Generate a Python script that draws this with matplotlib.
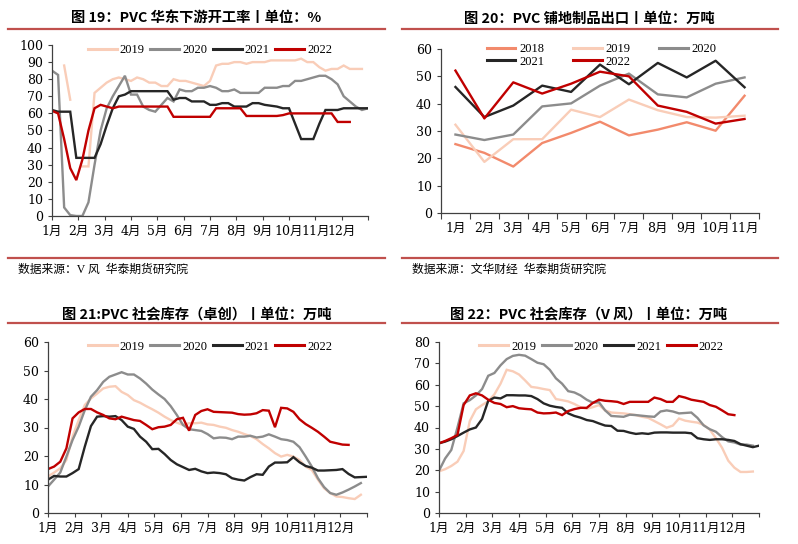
import numpy as np
import matplotlib
matplotlib.use('Agg')
import matplotlib.pyplot as plt
from matplotlib.lines import Line2D

nan = np.nan

# ---------------- data ----------------
months12 = ['1月', '2月', '3月', '4月', '5月', '6月', '7月', '8月', '9月', '10月', '11月', '12月']
months11 = months12[:11]

# Fig 19: weekly operating rate (%)
p1_2019 = [nan, nan, 88, 68, nan, 29, 29, 72, 75, 78, 80, 81, 80, 79, 81, 80, 78, 78, 76, 76,
           80, 79, 79, 78, 77, 76, 79, 88, 89, 89, 90, 90, 89, 90, 90, 90, 91, 91, 91, 91,
           91, 92, 90, 90, 87, 85, 86, 86, 88, 86, 86, 86]
p1_2020 = [85, 82.5, 5, 0.5, 0, 0, 8, 30, 50, 63, 70, 76, 82, 71, 71, 64, 62, 61, 65, 69,
           67, 74, 73, 73, 75, 75, 76, 75, 73, 73, 74, 72, 72, 72, 72, 75, 75, 75, 76, 76,
           79, 79, 80, 81, 82, 82, 80, 77, 70, 67, 64, 62, 63]
p1_2021 = [62, 61, 61, 61, 34, 34, 34, 34, 42, 53, 63, 70, 71, 73, 73, 73, 73, 73, 73, 73,
           68, 69, 69, 67, 67, 67, 65, 65, 66, 66, 64, 64, 64, 66, 66, 65, 64.5, 64, 63, 63,
           54, 45, 45, 45, 54, 62, 62, 62, 63, 63, 63, 63, 63]
p1_2022 = [61.5, 60, 45, 28, 21, 33, 50, 63, 65, 64, 63, 64, 64, 64, 64, 64, 64, 64, 64, 64,
           58, 58, 58, 58, 58, 58, 58, 63, 63, 63, 63, 63, 58.5, 58.5, 58.5, 58.5, 58.5, 58.5, 59, 60,
           60, 60, 60, 60, 60, 60, 60, 55, 55, 55]

# Fig 20: monthly flooring exports (10k t)
p2_2018 = [25.2, 22, 17, 25.6, 29.3, 33.4, 28.4, 30.5, 33.2, 30.1, 42.9]
p2_2019 = [32.3, 18.7, 27, 27, 37.8, 35.1, 41.5, 37.6, 35.1, 34.9, 35.6]
p2_2020 = [28.7, 26.7, 28.7, 39, 40.1, 46.6, 51, 43.4, 42.3, 47.3, 49.6]
p2_2021 = [46.1, 35.1, 39.3, 46.6, 44.3, 54.3, 47.1, 54.9, 49.6, 55.7, 46]
p2_2022 = [52.1, 34.6, 47.8, 43.7, 47.3, 51.7, 50, 39.3, 37, 32.7, 34.4]

# Fig 21: social inventory (Zhuochuang), weekly
p3_2019 = [12.8, 14.2, 15.7, 18.6, 26.8, 32.6, 37.9, 40.2, 41.9, 43.7, 44.3, 44.5, 42.5, 41.4, 39.6,
           38.7, 37.5, 36.4, 35.2, 33.8, 32.6, 31.7, 30.9, 31.5, 31.5, 31.7, 31.1, 30.9, 30.3, 29.9,
           29.1, 28.5, 27.7, 27, 25.9, 24.2, 22.7, 21, 19.8, 20.4, 19.8, 18.6, 16.3, 15.1, 11.7,
           8.7, 7, 5.8, 5.6, 5.2, 4.9, 6.4]
p3_2020 = [9.3, 11.7, 14.2, 19.8, 25.6, 30.3, 36.1, 40.8, 43.1, 46, 47.8, 48.6, 49.4, 48.6, 48.6,
           47.2, 45.4, 43.3, 41.6, 40, 37.5, 34.4, 30.9, 29.4, 29.1, 28.8, 27.7, 26.2, 26.5, 26.4,
           25.9, 26.8, 26.8, 27.1, 26.5, 26.8, 27.6, 26.8, 25.9, 25.6, 25, 23.1, 19.8, 16.3, 12.2,
           9.1, 7, 6.4, 7.2, 8.2, 9.3, 10.5]
p3_2021 = [11.7, 13, 12.8, 12.8, 14, 15.4, 23.3, 30.5, 33.8, 34, 33.8, 34, 32.6, 30.3, 29.5,
           26.8, 25, 22.4, 22.5, 20.7, 18.6, 17.1, 16.1, 15.1, 15.5, 14.6, 14, 14.2, 14, 13.6,
           12.2, 11.7, 11.4, 12.6, 13.6, 13.4, 16.3, 17.7, 17.7, 17.8, 19.6, 17.8, 16.5, 15.9, 14.9,
           14.9, 15, 15.1, 15.4, 13.7, 12.5, 12.6, 12.7]
p3_2022 = [15.4, 16.3, 18, 22.7, 33.2, 35.3, 36.5, 36.5, 35.3, 34.4, 33.2, 32.9, 33.8, 33.2, 32.6,
           32.3, 30.9, 29.4, 30.1, 30.3, 30.9, 32.9, 33.4, 28.9, 34.4, 35.8, 36.4, 35.5, 35.4, 35.3,
           35.2, 34.7, 34.5, 34.6, 35, 36.1, 35.9, 30.1, 36.9, 36.7, 35.5, 32.9, 31.2, 29.9, 28.5,
           26.8, 25, 24.5, 24, 23.9]

# Fig 22: social inventory (Wind), weekly
p4_2019 = [19.5, 20.5, 22, 24, 29, 43, 48.5, 50.5, 52.3, 55.5, 60.5, 67, 66.3, 64.8, 62, 59, 58.6,
           58, 57.5, 53.3, 52.8, 52.2, 51, 49.5, 48.8, 49.5, 50.5, 48, 47, 46.8, 46.6, 46.2, 45.8,
           45, 44.5, 43, 41.5, 39.9, 40.9, 44.2, 43.2, 42.7, 42.3, 41.2, 39, 35, 30.5, 24.5, 21.2,
           19.2, 19.2, 19.4]
p4_2020 = [19.8, 25.5, 29.5, 40, 51.3, 52.8, 55, 58, 64.2, 65.5, 69.1, 72, 73.5, 74, 73.6, 72,
           70.3, 69.6, 67, 63, 60.5, 57, 56.4, 55, 53, 51.6, 51.8, 48, 45.4, 45.2, 45, 46, 45.8,
           45.5, 45.2, 45, 47.5, 48, 47.5, 46.6, 46.8, 47, 44.5, 41, 39.2, 38, 35.5, 33.5, 33, 32,
           32, 31.5]
p4_2021 = [32.6, 33.4, 34.5, 36, 37.6, 39.1, 40, 44, 52.5, 54, 53.6, 55.1, 55.1, 55, 55, 54.7,
           53.3, 51.3, 50.2, 49.6, 49.2, 46.6, 45.4, 44.6, 43.5, 43, 41.9, 40.9, 40.7, 38.5, 38.4,
           37.6, 37, 37.3, 37, 37.6, 37.7, 37.7, 37.6, 37.6, 37.6, 37.3, 35, 34.5, 34.2, 34.5,
           34.5, 34.2, 33.7, 32.2, 31.5, 30.8, 31.5]
p4_2022 = [32.6, 33.7, 35, 36.5, 50.5, 55, 56, 55, 53, 51.5, 51, 49.5, 50, 49, 48.7, 48.5, 47,
           46.6, 46.7, 47, 45.8, 47.7, 48.6, 49.2, 49.2, 51.5, 53, 52.5, 52.3, 52, 51, 52, 52, 52,
           52, 54, 53.3, 52, 52, 54.7, 54, 53, 52.5, 52, 50.5, 49.7, 48, 46.2, 45.8]

# ---------------- style ----------------
C2018 = '#F28A6C'
C2019 = '#F9CDB8'
C2020 = '#8C8C8C'
C2021 = '#262626'
C2022 = '#C00000'
SEP = '#C0504D'
LW = 1.7

plt.rcParams['font.family'] = ['Liberation Serif', 'Noto Sans CJK SC']
TICKFONT = ['DejaVu Serif', 'Noto Sans CJK SC']
TITLEFONT = ['Noto Sans CJK SC', 'DejaVu Sans']

W, H = 798, 544
fig = plt.figure(figsize=(W / 100, H / 100), dpi=100)


def ax_px(l, t, r, b):
    return fig.add_axes([l / W, 1 - b / H, (r - l) / W, (b - t) / H])


def hline(x0, x1, y):
    fig.add_artist(Line2D([x0 / W, x1 / W], [1 - y / H, 1 - y / H], color=SEP, lw=1.6,
                          transform=fig.transFigure))


def title(x, y, s):
    fig.text(x / W, 1 - y / H, s, ha='center', va='center', fontsize=10.3,
             fontweight='bold', family=TITLEFONT, color='black')


def style(ax, ymax, ystep):
    for s in ['top', 'right']:
        ax.spines[s].set_visible(False)
    for s in ['left', 'bottom']:
        ax.spines[s].set_color('#404040')
        ax.spines[s].set_linewidth(0.9)
    ax.set_ylim(0, ymax)
    ax.set_yticks(np.arange(0, ymax + 1, ystep))
    ax.tick_params(axis='both', which='both', direction='out', length=3, width=0.8,
                   colors='#404040', labelcolor='black', labelsize=9, pad=3.5)
    for lab in ax.get_yticklabels():
        lab.set_family(TICKFONT)


def weekly(ax, series):
    for vals, col in series:
        x = np.arange(len(vals)) * 12 / 52
        ax.plot(x, vals, color=col, lw=LW, solid_joinstyle='miter')
    ax.set_xlim(0, 12)
    ax.set_xticks(np.arange(0, 13))
    ax.set_xticklabels(months12 + [''], family=TICKFONT, fontsize=9)


def legend4(ax, handles, x, y):
    ax.legend(handles, ['2019', '2020', '2021', '2022'], loc='center', bbox_to_anchor=(x, y),
              ncol=4, frameon=False, fontsize=9, handlelength=2.3, handletextpad=0.25,
              columnspacing=0.45, borderaxespad=0, borderpad=0)


def mk(col):
    return Line2D([], [], color=col, lw=2.2)


# ---------------- panel 1 ----------------
title(196, 18, '图 19：PVC 华东下游开工率丨单位：%')
hline(8, 385, 29)
ax1 = ax_px(52, 45, 368, 216)
weekly(ax1, [(p1_2019, C2019), (p1_2020, C2020), (p1_2021, C2021), (p1_2022, C2022)])
style(ax1, 100, 10)
legend4(ax1, [mk(C2019), mk(C2020), mk(C2021), mk(C2022)], 0.5, 0.97)
hline(8, 385, 258)
fig.text(18 / W, 1 - 270 / H, '数据来源：V 风  华泰期货研究院', ha='left', va='center', fontsize=8.5)

# ---------------- panel 2 ----------------
title(589, 19, '图 20：PVC 铺地制品出口丨单位：万吨')
hline(402, 778, 29)
ax2 = ax_px(441, 49, 759, 213)
xc = np.arange(len(months11))
for vals, col in [(p2_2018, C2018), (p2_2019, C2019), (p2_2020, C2020), (p2_2021, C2021), (p2_2022, C2022)]:
    ax2.plot(xc, vals, color=col, lw=LW)
style(ax2, 60, 10)
ax2.set_xlim(-0.5, len(months11) - 0.5)
ax2.set_xticks(xc)
ax2.set_xticklabels(months11, family=TICKFONT, fontsize=9)
ax2.set_xticks(np.arange(-0.5, len(months11)), minor=True)
ax2.tick_params(axis='x', which='major', length=0, pad=6.5)
ax2.tick_params(axis='x', which='minor', length=4)
ax2.legend([mk(C2018), mk(C2021), mk(C2019), mk(C2022), mk(C2020)],
           ['2018', '2021', '2019', '2022', '2020'], loc='center', bbox_to_anchor=(0.505, 0.962),
           ncol=3, frameon=False, fontsize=9, handlelength=2.3, handletextpad=0.3,
           columnspacing=2.3, labelspacing=0.05, borderaxespad=0, borderpad=0)
hline(402, 778, 258)
fig.text(412 / W, 1 - 270 / H, '数据来源：文华财经  华泰期货研究院', ha='left', va='center', fontsize=8.5)

# ---------------- panel 3 ----------------
title(197, 314, '图 21:PVC 社会库存（卓创）丨单位：万吨')
hline(8, 385, 323)
ax3 = ax_px(48, 342, 367, 513)
weekly(ax3, [(p3_2019, C2019), (p3_2020, C2020), (p3_2021, C2021), (p3_2022, C2022)])
style(ax3, 60, 10)
legend4(ax3, [mk(C2019), mk(C2020), mk(C2021), mk(C2022)], 0.508, 0.973)

# ---------------- panel 4 ----------------
title(589, 314, '图 22：PVC 社会库存（V 风）丨单位：万吨')
hline(402, 778, 323)
ax4 = ax_px(439, 342, 759, 513)
weekly(ax4, [(p4_2019, C2019), (p4_2020, C2020), (p4_2021, C2021), (p4_2022, C2022)])
style(ax4, 80, 10)
legend4(ax4, [mk(C2019), mk(C2020), mk(C2021), mk(C2022)], 0.508, 0.973)

fig.savefig('out.png', dpi=100, facecolor='white')
